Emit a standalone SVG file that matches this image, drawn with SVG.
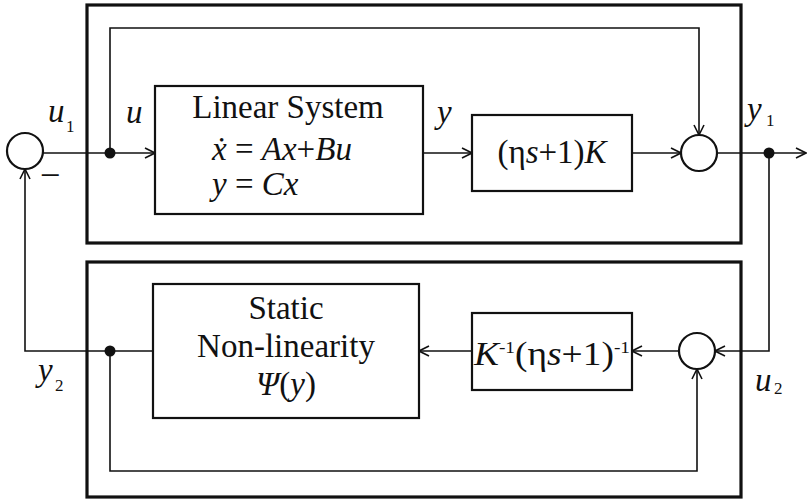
<svg xmlns="http://www.w3.org/2000/svg" width="808" height="503" viewBox="0 0 808 503" font-family="Liberation Serif, Times New Roman, serif">
<style>
text{font-family:'Liberation Serif','Times New Roman',Times,serif;font-size:33px;fill:#111}
.i{font-style:italic}
.s{font-size:17px}
.box{fill:none;stroke:#111;stroke-width:2.2}
.outer{fill:none;stroke:#111;stroke-width:3.2}
.ln{fill:none;stroke:#111;stroke-width:1.6}
.sum{fill:#fff;stroke:#111;stroke-width:2.2}
</style>
<defs>
<marker id="ah" viewBox="0 0 12 12" refX="11" refY="6" markerWidth="12" markerHeight="12" markerUnits="userSpaceOnUse" orient="auto">
<path d="M1,1 L11,6 L1,11" fill="none" stroke="#111" stroke-width="1.6"/>
</marker>
</defs>

<g id="upper-frame"><rect class="outer" x="87" y="5" width="654" height="238"/></g>
<g id="lower-frame"><rect class="outer" x="87" y="262" width="654" height="235"/></g>

<g id="connectors">
<path class="ln" d="M43,153 H155" marker-end="url(#ah)"/>
<path class="ln" d="M110,153 V28 H699 V135" marker-end="url(#ah)"/>
<path class="ln" d="M423,153 H472" marker-end="url(#ah)"/>
<path class="ln" d="M632,153 H681" marker-end="url(#ah)"/>
<path class="ln" d="M717,153 H806" marker-end="url(#ah)"/>
<path class="ln" d="M769,153 V351 H715" marker-end="url(#ah)"/>
<path class="ln" d="M679,351 H632" marker-end="url(#ah)"/>
<path class="ln" d="M472,351 H419" marker-end="url(#ah)"/>
<path class="ln" d="M153,351 H25 V169" marker-end="url(#ah)"/>
<path class="ln" d="M110,351 V471 H697 V369" marker-end="url(#ah)"/>
<circle cx="110" cy="153" r="5.5" fill="#111"/>
<circle cx="769" cy="153" r="5.5" fill="#111"/>
<circle cx="110" cy="351" r="5.5" fill="#111"/>
</g>

<g id="sum-left"><circle class="sum" cx="25" cy="151" r="18"/></g>
<g id="sum-top"><circle class="sum" cx="699" cy="153" r="18"/></g>
<g id="sum-bottom"><circle class="sum" cx="697" cy="351" r="18"/></g>

<g id="linear-system">
<rect class="box" x="155" y="86" width="268" height="128"/>
<text x="288" y="118" text-anchor="middle">Linear System</text>
<text x="212" y="160"><tspan class="i">ẋ</tspan> = <tspan class="i">Ax</tspan>+<tspan class="i">Bu</tspan></text>
<text x="212" y="195"><tspan class="i">y</tspan> = <tspan class="i">Cx</tspan></text>
</g>

<g id="gain-block">
<rect class="box" x="472" y="115" width="160" height="76"/>
<text x="552" y="163" text-anchor="middle">(η<tspan class="i">s</tspan>+1)<tspan class="i">K</tspan></text>
</g>

<g id="static-nonlinearity">
<rect class="box" x="153" y="284" width="266" height="134"/>
<text x="286" y="319" text-anchor="middle">Static</text>
<text x="286" y="357" text-anchor="middle">Non-linearity</text>
<text x="286" y="395" text-anchor="middle"><tspan class="i">Ψ</tspan>(<tspan class="i">y</tspan>)</text>
</g>

<g id="inverse-block">
<rect class="box" x="472" y="313" width="160" height="77"/>
<text x="474" y="365" textLength="156" lengthAdjust="spacingAndGlyphs"><tspan class="i">K</tspan><tspan class="s" dy="-12">-1</tspan><tspan dy="12">(η</tspan><tspan class="i">s</tspan><tspan>+1)</tspan><tspan class="s" dy="-12">-1</tspan></text>
</g>

<g id="labels">
<text class="i" x="48" y="122">u</text><text class="s" x="66" y="132">1</text>
<text class="i" x="126" y="123">u</text>
<text class="i" x="437" y="123">y</text>
<text class="i" x="747" y="120">y</text><text class="s" x="766" y="126">1</text>
<text class="i" x="38" y="381">y</text><text class="s" x="55" y="391">2</text>
<text class="i" x="755" y="391">u</text><text class="s" x="774" y="394">2</text>
<text x="42" y="183">–</text>
</g>
</svg>
